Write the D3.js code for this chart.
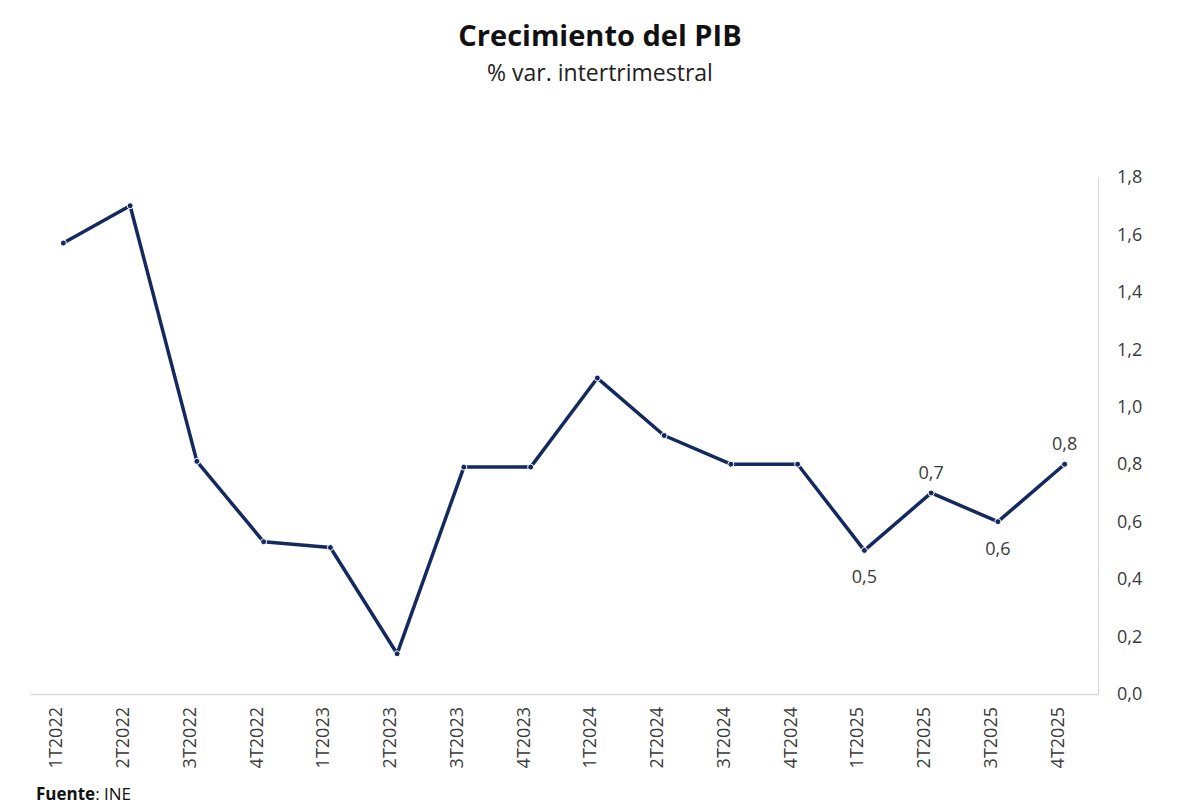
<!DOCTYPE html>
<html>
<head>
<meta charset="utf-8">
<script src="https://cdn.jsdelivr.net/npm/d3@7"></script>
<style>
  body { margin: 0; background: #fff; }
  svg { display: block; font-family: "Open Sans", sans-serif; }
</style>
</head>
<body>
<svg id="chart" width="1200" height="807"></svg>
<script>
// quarters and GDP growth (% q/q)
const quarters = ['1T2022', '2T2022', '3T2022', '4T2022', '1T2023', '2T2023', '3T2023', '4T2023',
  '1T2024', '2T2024', '3T2024', '4T2024', '1T2025', '2T2025', '3T2025', '4T2025']
const growth = [1.57, 1.70, 0.81, 0.53, 0.51, 0.14, 0.79, 0.79, 1.1, 0.9, 0.8, 0.8, 0.5, 0.7, 0.6, 0.8]
const yTicks = [0, 0.2, 0.4, 0.6, 0.8, 1.0, 1.2, 1.4, 1.6, 1.8]
// only the last four points carry a label: 'up' above, 'down' below
const labelPos = [null, null, null, null, null, null, null, null, null, null, null, null, 'down', 'up', 'down', 'up']

const navy = '#142a5e'
const fmt = v => d3.format('.1f')(v).replace('.', ',')

const svg = d3.select('#chart')

const x = d3.scaleBand()
  .domain(quarters)
  .range([30, 1098])

const y = d3.scaleLinear()
  .domain([0, 1.8])
  .range([694, 177])

// title
svg.append('text')
  .attr('x', 600).attr('y', 46)
  .attr('text-anchor', 'middle')
  .attr('font-size', 29).attr('font-weight', 700)
  .attr('fill', '#111')
  .text('Crecimiento del PIB')

svg.append('text')
  .attr('x', 600).attr('y', 81)
  .attr('text-anchor', 'middle')
  .attr('font-size', 23)
  .attr('fill', '#222')
  .text('% var. intertrimestral')

// right axis
const yAxis = svg.append('g')
  .attr('transform', 'translate(1098,0)')
  .call(d3.axisRight(y).tickValues(yTicks).tickFormat(fmt).tickSize(0).tickPadding(19))
yAxis.select('.domain').attr('stroke', '#d9d9d9')
yAxis.selectAll('text')
  .attr('font-size', 18)
  .attr('fill', '#3a3a3a')
  .attr('font-family', '"Open Sans", sans-serif')

// baseline and category labels
const xAxis = svg.append('g')
  .attr('transform', 'translate(0,694)')
  .call(d3.axisBottom(x).tickSize(0).tickPadding(0))
xAxis.select('.domain').attr('stroke', '#d9d9d9').attr('stroke-width', 1.5)
xAxis.selectAll('text')
  .attr('font-size', 18)
  .attr('fill', '#3a3a3a')
  .attr('font-family', '"Open Sans", sans-serif')
  .attr('text-anchor', 'end')
  .attr('transform', 'rotate(-90)')
  .attr('x', -13)
  .attr('y', 0)
  .attr('dy', '-0.05em')
  .attr('dx', 0)

// line
const line = d3.line()
  .x((d, i) => x(quarters[i]) + x.bandwidth() / 2)
  .y(d => y(d))

svg.append('path')
  .datum(growth)
  .attr('d', line)
  .attr('fill', 'none')
  .attr('stroke', navy)
  .attr('stroke-width', 3.5)
  .attr('stroke-linejoin', 'round')

svg.selectAll('circle.pt')
  .data(growth)
  .join('circle')
  .attr('class', 'pt')
  .attr('cx', (d, i) => x(quarters[i]) + x.bandwidth() / 2)
  .attr('cy', d => y(d))
  .attr('r', 3)
  .attr('fill', navy)
  .attr('stroke', '#fff')
  .attr('stroke-width', 1)

// value labels
svg.selectAll('text.val')
  .data(growth.map((v, i) => ({ v, i, pos: labelPos[i] })).filter(d => d.pos))
  .join('text')
  .attr('class', 'val')
  .attr('x', d => x(quarters[d.i]) + x.bandwidth() / 2)
  .attr('y', d => y(d.v) + (d.pos === 'up' ? -14 : 33))
  .attr('text-anchor', 'middle')
  .attr('font-size', 18)
  .attr('fill', '#3a3a3a')
  .text(d => fmt(d.v))

// source
const src = svg.append('text')
  .attr('x', 36).attr('y', 800)
  .attr('font-size', 17)
  .attr('fill', '#111')
src.append('tspan').attr('font-weight', 700).text('Fuente')
src.append('tspan').text(': INE')
</script>
</body>
</html>
